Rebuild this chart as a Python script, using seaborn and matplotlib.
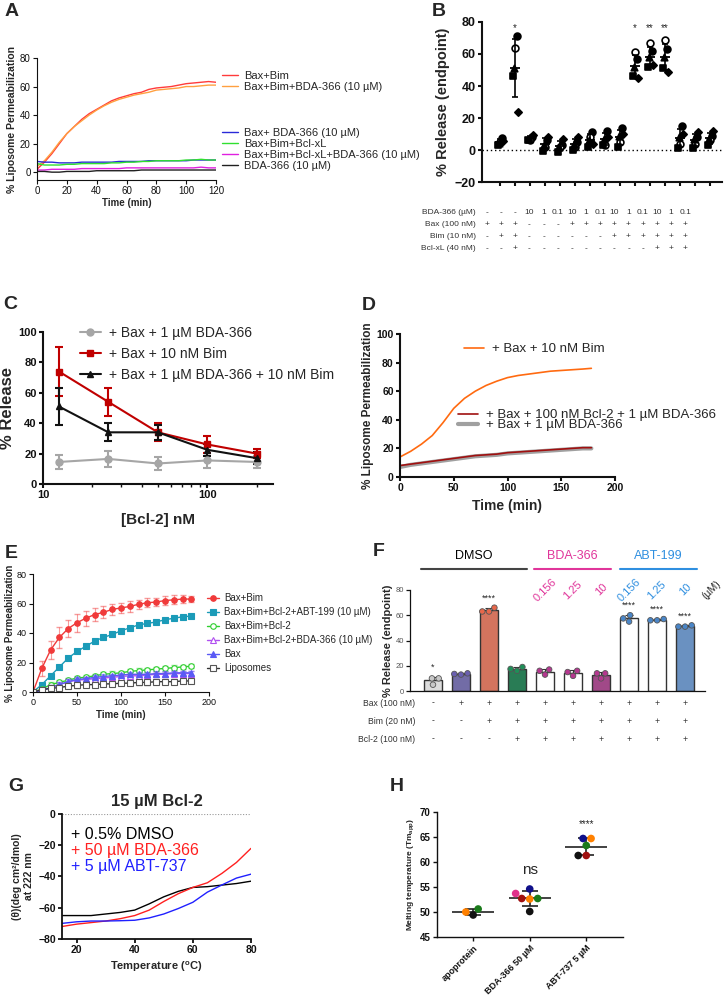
import numpy as np
import pandas as pd
import matplotlib.pyplot as plt
import seaborn as sns
from matplotlib.lines import Line2D
from matplotlib.transforms import blended_transform_factory

# ---------------- data ----------------
# A: liposome permeabilization time course
a_time = list(range(0, 121, 5))
a_bax_bim = [2, 7, 13, 20, 27, 32, 37, 41, 44, 47, 50, 52, 53.5, 55, 56, 58, 59, 59.5, 60, 61, 62, 62.5, 63, 63.5, 63]
a_bax_bim_bda = [4, 8, 14, 21, 27, 32, 36, 40, 43.5, 46.5, 49, 51, 52.5, 54, 55, 56, 57.5, 58, 58.5, 59, 60, 60, 60.5, 61, 61]
a_bax_bda = [7.5, 7, 7, 6.5, 6.5, 6.5, 7, 7, 7, 7, 7, 7.5, 7.5, 7.5, 7.5, 8, 8, 8, 8, 8, 8, 8.5, 8.5, 8.5, 8.5]
a_bclxl = [6, 5, 5, 5, 5.5, 5.5, 6, 6, 6, 6, 6.5, 6.5, 7, 7, 7.5, 7.5, 8, 8, 8, 8, 8.5, 8.5, 9, 8.5, 8.5]
a_bclxl_bda = [1.5, 1.5, 2, 2, 2, 2, 2.5, 2.5, 2.5, 2.5, 2.5, 2.5, 3, 3, 3, 3, 3, 3, 3, 3, 3, 3, 3.5, 3, 3]
a_bda = [0.5, 0.5, 0, 0, 0.5, 0.5, 0.5, 0.5, 1, 1, 1, 1, 1, 1, 1.5, 1.5, 1.5, 1.5, 1.5, 1.5, 1.5, 1.5, 1.5, 1.5, 1.5]
a_labels = ['Bax+Bim', 'Bax+Bim+BDA-366 (10 µM)', 'Bax+ BDA-366 (10 µM)', 'Bax+Bim+Bcl-xL',
            'Bax+Bim+Bcl-xL+BDA-366 (10 µM)', 'BDA-366 (10 µM)']
a_colors = ['#ff3b3b', '#ffa040', '#2a2ad8', '#30e030', '#e020e0', '#202020']

# B: endpoint release, 5 replicates (marker style per replicate)
b_circle = [7.5, 71, 8, 6.5, 3, 5, 11, 12, 14, 57, 62, 63, 15, 8, 9]
b_open = [5, 64, 6.5, 2, 2, 2, 8, 3, 5, 61, 67, 69, 4, 4, 6]
b_triangle = [4.5, 51, 7, 3, 2, 4, 6, 7, 9, 52, 58, 58, 8, 7, 7]
b_square = [3, 46, 6, -0.5, -1, 0, 2, 3, 2, 46, 52, 51, 1, 1, 3]
b_diamond = [5.5, 24, 9.5, 8, 7, 8, 4, 8, 10, 45, 53, 49, 10, 11, 12]
b_stars = {1: '*', 9: '*', 10: '**', 11: '**'}
b_table = {
    'BDA-366 (µM)': ['-', '-', '-', '10', '1', '0.1', '10', '1', '0.1', '10', '1', '0.1', '10', '1', '0.1'],
    'Bax (100 nM)': ['+', '+', '+', '-', '-', '-', '+', '+', '+', '+', '+', '+', '+', '+', '+'],
    'Bim (10 nM)': ['-', '+', '+', '-', '-', '-', '-', '-', '-', '+', '+', '+', '+', '+', '+'],
    'Bcl-xL (40 nM)': ['-', '-', '+', '-', '-', '-', '-', '-', '-', '-', '-', '-', '+', '+', '+'],
}

# C: titration of Bcl-2
c_bcl2 = [12.5, 25, 50, 100, 200]
c_bda = [14.5, 16.5, 13.5, 15.5, 14.5]
c_bda_sd = [4.5, 5, 4.5, 5, 4]
c_bim = [74, 54, 34, 26, 20]
c_bim_sd = [16, 9, 6, 5.5, 3]
c_both = [51, 34, 34, 22.5, 17]
c_both_sd = [12, 6, 5, 4, 4]

# D: time course with Bcl-2
d_time = [0, 10, 20, 30, 40, 50, 60, 70, 80, 90, 100, 110, 120, 130, 140, 150, 160, 170, 178]
d_bim = [14, 18, 23, 29, 38, 48, 55, 60, 64, 67, 69.5, 71, 72, 73, 74, 74.5, 75, 75.5, 76]
d_bcl2_bda = [8, 9, 10, 11, 12, 13, 14, 15, 15.5, 16, 17, 17.5, 18, 18.5, 19, 19.5, 20, 20.5, 20.5]
d_bda = [7, 8.5, 9.5, 10.5, 11.5, 12.5, 13.5, 14.5, 15, 15.5, 16.5, 17, 17.5, 18, 18.5, 19, 19.5, 20, 20]

# E: time course with ABT-199
e_time = list(range(0, 181, 10))
e_bax_bim = [0, 16, 28.5, 37, 43, 47, 50, 52.5, 54, 56, 57, 58, 59.5, 60.5, 61, 62, 62.5, 63, 63]
e_bax_bim_sd = [0, 5, 6, 7, 6, 6, 5, 4.5, 4, 4, 3.5, 3.5, 3, 3, 3, 3, 3, 2.5, 2]
e_abt = [0, 5, 11, 17, 23, 27.5, 31, 34.5, 37, 39, 41.5, 43.5, 45.5, 46.5, 47.5, 49, 50, 51, 51.5]
e_bcl2 = [0, 2, 5, 6.5, 8, 9.5, 10, 11, 12, 12.5, 13, 14, 14.5, 15, 15.5, 16, 16.5, 17, 17.5]
e_bcl2_bda = [0, 1, 3, 5, 7, 8, 8.5, 9, 9.5, 10, 10.5, 11, 11, 11.5, 12, 12, 12.5, 12.5, 12.5]
e_bax = [0, 1, 3, 5, 7, 8.5, 9, 10, 10.5, 11, 11.5, 12, 12, 12, 12.5, 12.5, 13, 13, 13]
e_lipo = [0, 1.5, 2.5, 3, 4, 4.5, 5, 5, 5.5, 5.5, 6, 6, 6.5, 6.5, 7, 7, 7, 7.5, 7.5]
e_small_sd = [0, 1, 1.5, 1.5, 1.5, 1.5, 1.5, 1.5, 1.5, 1.5, 1.5, 1.5, 1.5, 1.5, 1.5, 1.5, 1.5, 1.5, 1.5]

# F: endpoint release bars (3 replicates)
f_points = [[10, 10, 5], [14, 13, 13.5], [66, 63, 63], [19, 16, 17.5], [17, 13, 16],
            [16, 12, 15], [14, 10, 14], [60, 55, 57.5], [57, 56, 56], [52, 51, 51]]
f_bar_colors = ['#dcdcdc', '#6b62b0', '#e8674a', '#1b8a56', 'white', 'white', '#b03a8e', 'white', 'white', '#5b8fcf']
f_dot_colors = ['#c8c8c8', '#6a5fb0', '#e8674a', '#1f8f58', '#b5378f', '#b5378f', '#b5378f', '#4a86c8', '#4a86c8', '#4a86c8']
f_stars = {0: '*', 2: '****', 7: '****', 8: '****', 9: '****'}
f_doses = ['0.156', '1.25', '10']
f_table = {
    'Bax (100 nM)': ['-', '+', '+', '+', '+', '+', '+', '+', '+', '+'],
    'Bim (20 nM)': ['-', '-', '+', '+', '+', '+', '+', '+', '+', '+'],
    'Bcl-2 (100 nM)': ['-', '-', '-', '+', '+', '+', '+', '+', '+', '+'],
}

# G: CD melting curves
g_temp = [15, 20, 25, 30, 35, 40, 45, 50, 55, 60, 65, 70, 75, 80]
g_dmso = [-65, -65, -65, -64, -63, -61.5, -57.5, -53, -49.5, -47, -46.5, -45.5, -44.5, -43]
g_bda = [-72, -70.5, -69.5, -68.5, -67, -65, -61.5, -56, -51, -47, -44, -38, -31, -22]
g_abt = [-70, -69, -68.5, -68.5, -68.3, -68, -66.5, -64, -60.5, -56.5, -50, -45.4, -41, -38.5]

# H: melting temperatures
h_groups = ['apoprotein'] * 3 + ['BDA-366 50 µM'] * 6 + ['ABT-737 5 µM'] * 5
h_rep = ['green', 'orange', 'black',
         'magenta', 'navy', 'green', 'orange', 'darkred', 'black',
         'orange', 'navy', 'green', 'darkred', 'black']
h_tm = [50.6, 50.0, 49.4,
        53.7, 54.6, 52.7, 52.6, 52.7, 50.1,
        64.7, 64.7, 63.3, 61.3, 61.3]

# ---------------- figure ----------------
W, H = 724, 996
sns.set_style('ticks')
plt.rcParams['font.family'] = ['Liberation Sans', 'DejaVu Sans']
plt.rcParams['mathtext.fontset'] = 'custom'
plt.rcParams['mathtext.rm'] = 'Liberation Sans'
plt.rcParams['mathtext.bf'] = 'Liberation Sans:bold'
plt.rcParams['mathtext.it'] = 'Liberation Sans:italic'
plt.rcParams['axes.edgecolor'] = '#111111'
plt.rcParams['xtick.color'] = '#111111'
plt.rcParams['ytick.color'] = '#111111'

fig = plt.figure(figsize=(W / 100, H / 100), dpi=100)


def axp(l, t, r, b):
    return fig.add_axes([l / W, 1 - b / H, (r - l) / W, (b - t) / H])


def fpx(x, y):
    return (x / W, 1 - y / H)


def style(ax, lw=1.0, size=7, bold=False):
    sns.despine(ax=ax)
    for s in ['left', 'bottom']:
        ax.spines[s].set_linewidth(lw)
    ax.tick_params(width=lw, length=3, labelsize=size, pad=1.5)
    if bold:
        for t in ax.get_xticklabels() + ax.get_yticklabels():
            t.set_fontweight('bold')


for lab, (x, y) in zip('ABCDEFGH', [(5, 3), (432, 3), (3, 296), (362, 297), (5, 545), (373, 543), (8, 778), (390, 778)]):
    fig.text(*fpx(x, y), lab, fontsize=14, fontweight='bold', va='top', ha='left')

# ---- A ----
axA = axp(37, 58, 216, 180)
for vals, lab, col in zip([a_bax_bim, a_bax_bim_bda, a_bax_bda, a_bclxl, a_bclxl_bda, a_bda], a_labels, a_colors):
    sns.lineplot(x=a_time, y=vals, color=col, lw=1, label=lab, ax=axA)
axA.set_xlim(0, 120)
axA.set_ylim(-5.5, 80)
axA.set_xticks(range(0, 121, 20))
axA.set_yticks(range(0, 81, 20))
style(axA, lw=0.8, size=7)
axA.set_xlabel('Time (min)', fontsize=7, fontweight='bold', labelpad=1)
axA.set_ylabel('% Liposome Permeabilization', fontsize=7.5, fontweight='bold', labelpad=2)
hA, lA = axA.get_legend_handles_labels()
legA1 = axA.legend(hA[:2], lA[:2], loc='upper left', bbox_to_anchor=fpx(222, 71), bbox_transform=fig.transFigure,
                   frameon=False, fontsize=8, handlelength=1.4, handletextpad=0.6, labelspacing=0.05,
                   borderpad=0, borderaxespad=0)
axA.add_artist(legA1)
axA.legend(hA[2:], lA[2:], loc='upper left', bbox_to_anchor=fpx(222, 128), bbox_transform=fig.transFigure,
           frameon=False, fontsize=8, handlelength=1.4, handletextpad=0.6, labelspacing=0.08,
           borderpad=0, borderaxespad=0)

# ---- B ----
axB = axp(482, 22, 722, 182)
b_x = np.arange(len(b_circle))
b_all = np.array([b_circle, b_open, b_triangle, b_square, b_diamond])
b_mean = b_all.mean(axis=0)
b_sd = b_all.std(axis=0, ddof=1)
axB.axhline(0, color='black', ls=(0, (1, 2)), lw=1)
for vals, mk, fc, dx, sz in [(b_circle, 'o', 'black', 0.15, 24), (b_open, 'o', 'white', 0.0, 24),
                             (b_triangle, '^', 'black', -0.05, 22), (b_square, 's', 'black', -0.12, 20),
                             (b_diamond, 'D', 'black', 0.18, 14)]:
    sns.scatterplot(x=b_x + dx, y=vals, marker=mk, color=fc, edgecolor='black', linewidth=1.2, s=sz, ax=axB, zorder=3)
axB.errorbar(b_x, b_mean, yerr=b_sd, fmt='none', ecolor='black', elinewidth=1.2, capsize=2.5, capthick=1.2, zorder=4)
axB.hlines(b_mean, b_x - 0.33, b_x + 0.33, color='black', lw=1.3, zorder=4)
for i, s in b_stars.items():
    axB.text(i, 76, s, ha='center', va='center', fontsize=7)
axB.set_xlim(-1.2, 14.8)
axB.set_ylim(-20, 80)
axB.set_xticks(b_x)
axB.set_xticklabels([])
axB.set_yticks(range(-20, 81, 20))
style(axB, lw=1.5, size=9, bold=True)
axB.set_ylabel('% Release (endpoint)', fontsize=10.5, fontweight='bold', labelpad=3)
for r, (lab, vals) in enumerate(b_table.items()):
    y = 213 + r * 11.8
    fig.text(*fpx(476, y), lab, ha='right', va='center', fontsize=6, color='#333333')
    for j, v in enumerate(vals):
        fig.text(*fpx(487 + j * 14.15, y), v, ha='center', va='center', fontsize=6, color='#333333')

# ---- C ----
axC = axp(43, 332, 273, 484)
c_specs = [(c_bda, c_bda_sd, '#a6a6a6', 'o', '+ Bax + 1 µM BDA-366'),
           (c_bim, c_bim_sd, '#c00000', 's', '+ Bax + 10 nM Bim'),
           (c_both, c_both_sd, '#111111', '^', '+ Bax + 1 µM BDA-366 + 10 nM Bim')]
for vals, sd, col, mk, lab in c_specs:
    axC.errorbar(c_bcl2, vals, yerr=sd, color=col, marker=mk, ms=5, lw=1.5, capsize=3, capthick=1.5)
axC.set_xscale('log')
axC.set_xlim(10, 251)
axC.set_ylim(0, 100)
axC.set_yticks(range(0, 101, 20))
axC.set_xticks([10, 100])
axC.set_xticklabels(['10', '100'])
style(axC, lw=1.5, size=8, bold=True)
axC.tick_params(which='minor', width=1, length=2)
axC.set_xlabel('[Bcl-2] nM', fontsize=11, fontweight='bold', labelpad=9)
axC.set_ylabel('% Release', fontsize=12, fontweight='bold', labelpad=2)
hC = [Line2D([], [], color=col, marker=mk, ms=5, lw=1.5) for _, _, col, mk, _ in c_specs]
axC.legend(hC, [s[4] for s in c_specs], loc='upper left', bbox_to_anchor=fpx(80, 326),
           bbox_transform=fig.transFigure, frameon=False, fontsize=10, handlelength=1.5, handletextpad=0.6,
           labelspacing=0.5, borderpad=0, borderaxespad=0)

# ---- D ----
axD = axp(400, 334, 615, 477)
sns.lineplot(x=d_time, y=d_bda, color='#a0a0a0', lw=3, label='+ Bax + 1 µM BDA-366', ax=axD)
sns.lineplot(x=d_time, y=d_bcl2_bda, color='#a01010', lw=1.2, label='+ Bax + 100 nM Bcl-2 + 1 µM BDA-366', ax=axD)
sns.lineplot(x=d_time, y=d_bim, color='#ff6a10', lw=1.2, label='+ Bax + 10 nM Bim', ax=axD)
axD.set_xlim(0, 200)
axD.set_ylim(0, 100)
axD.set_xticks(range(0, 201, 50))
axD.set_yticks(range(0, 101, 20))
style(axD, lw=1.5, size=7.5, bold=True)
axD.set_xlabel('Time (min)', fontsize=10, fontweight='bold', labelpad=4)
axD.set_ylabel('% Liposome Permeabilization', fontsize=8.5, fontweight='bold', labelpad=2)
hD, lD = axD.get_legend_handles_labels()
legD1 = axD.legend([hD[2]], [lD[2]], loc='upper left', bbox_to_anchor=fpx(464, 343), bbox_transform=fig.transFigure,
                   frameon=False, fontsize=9.5, handlelength=1.5, handletextpad=0.6, borderpad=0, borderaxespad=0)
axD.add_artist(legD1)
axD.legend([hD[1], hD[0]], [lD[1], lD[0]], loc='upper left', bbox_to_anchor=fpx(458, 409),
           bbox_transform=fig.transFigure, frameon=False, fontsize=9.5, handlelength=1.5, handletextpad=0.6,
           labelspacing=-0.15, borderpad=0, borderaxespad=0)

# ---- E ----
axE = axp(33, 574, 209, 692)
e_series = [
    (e_bax_bim, e_bax_bim_sd, '#f03a3a', 'o', '#f03a3a', '#f03a3a', 'Bax+Bim'),
    (e_abt, None, '#1b9bb8', 's', '#1b9bb8', '#1b9bb8', 'Bax+Bim+Bcl-2+ABT-199 (10 µM)'),
    (e_bcl2, e_small_sd, '#2fcf2f', 'o', 'white', '#2fcf2f', 'Bax+Bim+Bcl-2'),
    (e_bcl2_bda, e_small_sd, '#b050f0', '^', 'white', '#b050f0', 'Bax+Bim+Bcl-2+BDA-366 (10 µM)'),
    (e_bax, e_small_sd, '#5a5af5', '^', '#5a5af5', '#5a5af5', 'Bax'),
    (e_lipo, e_small_sd, '#333333', 's', 'white', '#555555', 'Liposomes'),
]
for vals, sd, col, mk, fc, ec, lab in e_series:
    if sd is not None:
        axE.errorbar(e_time, vals, yerr=sd, fmt='none', ecolor=col, alpha=0.5, elinewidth=0.8, capsize=2)
    sns.lineplot(x=e_time, y=vals, color=col, lw=1, marker=mk, markersize=4, markerfacecolor=fc,
                 markeredgecolor=ec, markeredgewidth=0.8, label=lab, ax=axE)
axE.set_xlim(0, 200)
axE.set_ylim(0, 80)
axE.set_xticks(range(0, 201, 50))
axE.set_yticks(range(0, 81, 20))
style(axE, lw=0.8, size=6.5)
axE.set_xlabel('Time (min)', fontsize=7, fontweight='bold', labelpad=2)
axE.set_ylabel('% Liposome Permeabilization', fontsize=7, fontweight='bold', labelpad=1)
axE.legend(loc='upper left', bbox_to_anchor=fpx(207, 593), bbox_transform=fig.transFigure, frameon=False,
           fontsize=7, handlelength=1.2, handletextpad=0.6, labelspacing=0.42, borderpad=0, borderaxespad=0)

# ---- F ----
axF = axp(410, 590, 705, 691)
f_names = [f'c{i}' for i in range(len(f_points))]
dfF = pd.DataFrame({'cond': np.repeat(f_names, 3), 'val': np.concatenate(f_points)})
f_mean = dfF.groupby('cond', sort=False)['val'].mean().values
f_sd = dfF.groupby('cond', sort=False)['val'].std().values
sns.barplot(x=f_names, y=f_mean, hue=f_names, palette=f_bar_colors, edgecolor='#333333', linewidth=1,
            width=0.65, legend=False, ax=axF, zorder=2)
axF.errorbar(range(len(f_names)), f_mean, yerr=[np.zeros(len(f_sd)), f_sd], fmt='none', ecolor='#333333',
             elinewidth=0.8, capsize=3, capthick=0.8, zorder=3)
sns.swarmplot(data=dfF, x='cond', y='val', hue='cond', palette=f_dot_colors, size=4, edgecolor='#555555',
              linewidth=0.6, legend=False, ax=axF, zorder=4)
for i, s in f_stars.items():
    axF.text(i, f_mean[i] + f_sd[i] + 4, s, ha='center', va='bottom', fontsize=6.5)
axF.set_xlim(-0.82, 9.71)
axF.set_ylim(0, 80)
axF.set_yticks(range(0, 81, 20))
axF.set_xticks([])
axF.set_xlabel('')
style(axF, lw=0.9, size=5.5)
axF.tick_params(axis='y', labelcolor='#555555')
axF.set_ylabel('% Release (endpoint)', fontsize=8, fontweight='bold', labelpad=2)
trF = blended_transform_factory(axF.transData, fig.transFigure)
for lab, x0, x1, col in [('DMSO', -0.43, 3.36, '#444444'), ('BDA-366', 3.6, 6.36, '#e0359a'),
                         ('ABT-199', 6.68, 9.43, '#2f8fe0')]:
    axF.plot([x0, x1], [1 - 569 / H] * 2, color=col, lw=1.5, transform=trF, clip_on=False)
    axF.text((x0 + x1) / 2, 1 - 562 / H, lab, color=col if lab != 'DMSO' else 'black', fontsize=9,
             ha='center', va='bottom', transform=trF)
for k, d in enumerate(f_doses):
    for base, col in [(4, '#e0359a'), (7, '#2f8fe0')]:
        axF.text(base + k, 1 - 590 / H, d, color=col, fontsize=8, rotation=45, ha='center', va='center',
                 transform=trF)
axF.text(9.95, 1 - 590 / H, '(µM)', fontsize=7.5, rotation=45, ha='center', va='center', transform=trF)
for r, (lab, vals) in enumerate(f_table.items()):
    y = 1 - (703 + r * 18) / H
    fig.text(415 / W, y, lab, ha='right', va='center', fontsize=6.2, color='#333333')
    for j, v in enumerate(vals):
        axF.text(j, y, v, ha='center', va='center', fontsize=6.2, color='#333333', transform=trF)

# ---- G ----
axG = axp(62, 814, 251, 939)
axG.axhline(0, color='#999999', ls=(0, (1, 1.5)), lw=0.8)
sns.lineplot(x=g_temp, y=g_dmso, color='black', lw=1, label='+ 0.5% DMSO', ax=axG)
sns.lineplot(x=g_temp, y=g_bda, color='#ff2020', lw=1, label='+ 50 µM BDA-366', ax=axG)
sns.lineplot(x=g_temp, y=g_abt, color='#2020ff', lw=1, label='+ 5 µM ABT-737', ax=axG)
axG.set_xlim(15, 80)
axG.set_ylim(-80, 0)
axG.set_xticks(range(20, 81, 20))
axG.set_yticks(range(-80, 1, 20))
style(axG, lw=1.3, size=7.5, bold=True)
axG.set_title('15 µM Bcl-2', fontsize=12, fontweight='bold', pad=6)
axG.set_xlabel(r'Temperature ($\mathbf{^{o}}$C)', fontsize=8, fontweight='bold', labelpad=3)
axG.set_ylabel('(θ)(deg cm²/dmol)\nat 222 nm', fontsize=7.5, fontweight='bold', labelpad=3)
axG.legend(loc='upper left', bbox_to_anchor=fpx(71, 827), bbox_transform=fig.transFigure, frameon=False,
           fontsize=11.5, handlelength=0, handletextpad=0, labelspacing=0.05, labelcolor='linecolor',
           borderpad=0, borderaxespad=0)

# ---- H ----
axH = axp(437, 812, 623, 937)
h_order = ['apoprotein', 'BDA-366 50 µM', 'ABT-737 5 µM']
dfH = pd.DataFrame({'group': h_groups, 'rep': h_rep, 'tm': h_tm})
h_pal = {'green': '#1a7a1a', 'orange': '#ff8000', 'black': '#111111', 'magenta': '#e0308a',
         'navy': '#10108a', 'darkred': '#a01010'}
h_mean = dfH.groupby('group')['tm'].mean().reindex(h_order).values
h_sd = dfH.groupby('group')['tm'].std().reindex(h_order).values
h_x = np.arange(len(h_order))
axH.hlines(h_mean, h_x - 0.37, h_x + 0.37, color='#222222', lw=1.2, zorder=2)
axH.errorbar(h_x, h_mean, yerr=h_sd, fmt='none', ecolor='#222222', elinewidth=1.2, capsize=6, capthick=1.2, zorder=2)
sns.swarmplot(data=dfH, x='group', y='tm', order=h_order, hue='rep', palette=h_pal, size=5.5, legend=False,
              ax=axH, zorder=3)
axH.text(2, 67.5, '****', ha='center', va='center', fontsize=7)
axH.text(1, 58.5, 'ns', ha='center', va='center', fontsize=11)
axH.set_xlim(-0.64, 2.65)
axH.set_ylim(45, 70)
axH.set_yticks(range(45, 71, 5))
axH.set_xticks(h_x)
axH.set_xticklabels(h_order, rotation=45, ha='right', rotation_mode='anchor')
style(axH, lw=1.0, size=7, bold=True)
axH.tick_params(axis='x', labelsize=6.5)
axH.set_xlabel('')
axH.set_ylabel(r'Melting temperature (Tm$_{\mathbf{app}}$)', fontsize=6, fontweight='bold', labelpad=3)

fig.savefig('out.png', dpi=100)
